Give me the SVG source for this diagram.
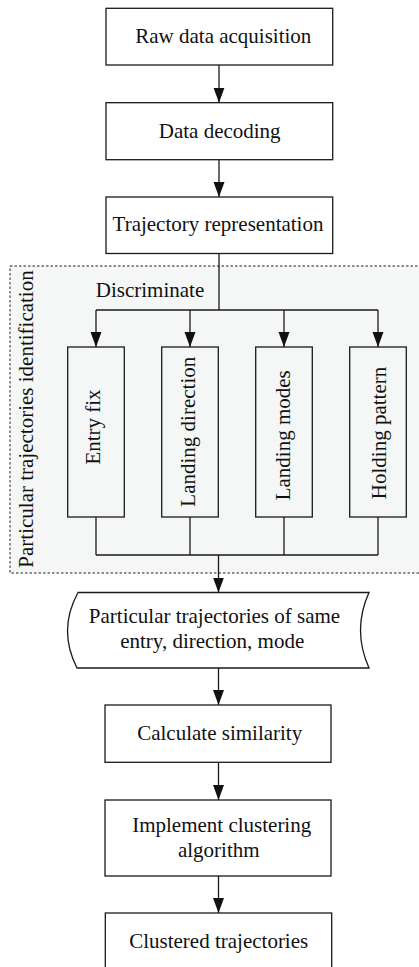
<svg xmlns="http://www.w3.org/2000/svg" width="419" height="967" viewBox="0 0 419 967">
<style>
.box{fill:#fff;stroke:#1a1a1a;stroke-width:1.3}
.vbox{fill:none;stroke:#1a1a1a;stroke-width:1.3}
.ln{fill:none;stroke:#1a1a1a;stroke-width:1.3}
.arr{fill:none;stroke:#1a1a1a;stroke-width:1.3;marker-end:url(#ah)}
text{font-family:"Liberation Serif","Times New Roman",serif;font-size:21px;fill:#111;text-anchor:middle}
</style>
<defs>
<marker id="ah" markerUnits="userSpaceOnUse" markerWidth="15" markerHeight="12" refX="15" refY="6" orient="auto">
<path d="M0,0.5 L15,6 L0,11.5 Z" fill="#111"/>
</marker>
</defs>
<rect width="419" height="967" fill="#fff"/>
<g id="group-identification">
<rect x="10" y="266" width="420" height="307" fill="#f5f6f6" stroke="#222" stroke-width="1" stroke-dasharray="2.5,2"/>
<text transform="translate(33,419) rotate(-90)">Particular trajectories identification</text>
</g>
<g id="connectors">
<line class="arr" x1="219" y1="65" x2="219" y2="102.7"/>
<line class="arr" x1="219" y1="159.7" x2="219" y2="197"/>
<line class="ln" x1="219" y1="253.5" x2="219" y2="310"/>
<line class="ln" x1="96" y1="310" x2="378" y2="310"/>
<line class="arr" x1="96" y1="310" x2="96" y2="347"/>
<line class="arr" x1="190" y1="310" x2="190" y2="347"/>
<line class="arr" x1="284" y1="310" x2="284" y2="347"/>
<line class="arr" x1="378" y1="310" x2="378" y2="347"/>
<line class="ln" x1="96" y1="517" x2="96" y2="555"/>
<line class="ln" x1="190" y1="517" x2="190" y2="555"/>
<line class="ln" x1="284" y1="517" x2="284" y2="555"/>
<line class="ln" x1="378" y1="517" x2="378" y2="555"/>
<line class="ln" x1="96" y1="555" x2="378" y2="555"/>
<line class="arr" x1="218.5" y1="555" x2="218.5" y2="592.5"/>
<line class="arr" x1="218.5" y1="668" x2="218.5" y2="705"/>
<line class="arr" x1="218.5" y1="762.3" x2="218.5" y2="800"/>
<line class="arr" x1="218.5" y1="876" x2="218.5" y2="913"/>
<text x="150" y="296.7">Discriminate</text>
</g>
<g id="raw-data">
<rect class="box" x="106" y="8.3" width="226.7" height="56.7"/>
<text x="223.3" y="43">Raw data acquisition</text>
</g>
<g id="data-decoding">
<rect class="box" x="106" y="102.7" width="226.7" height="57"/>
<text x="219.7" y="138">Data decoding</text>
</g>
<g id="trajectory-representation">
<rect class="box" x="106" y="197" width="226.7" height="56.5"/>
<text x="218" y="230.5">Trajectory representation</text>
</g>
<g id="entry-fix">
<rect class="vbox" x="67.7" y="347" width="56.6" height="170"/>
<text transform="translate(100,427) rotate(-90)">Entry fix</text>
</g>
<g id="landing-direction">
<rect class="vbox" x="161.7" y="347" width="56.6" height="170"/>
<text transform="translate(195,431.7) rotate(-90)">Landing direction</text>
</g>
<g id="landing-modes">
<rect class="vbox" x="255.7" y="347" width="56.6" height="170"/>
<text transform="translate(290,435.3) rotate(-90)">Landing modes</text>
</g>
<g id="holding-pattern">
<rect class="vbox" x="349.7" y="347" width="56.6" height="170"/>
<text transform="translate(385.5,433) rotate(-90)">Holding pattern</text>
</g>
<g id="particular-trajectories">
<path class="box" d="M78,592.5 L369,592.5 Q352,630 369,668 L77,668 Q57.5,630 78,592.5 Z"/>
<text x="214.5" y="623.3">Particular trajectories of same</text>
<text x="212.2" y="648">entry, direction, mode</text>
</g>
<g id="calculate-similarity">
<rect class="box" x="105" y="705" width="226" height="57.3"/>
<text x="219.7" y="740">Calculate similarity</text>
</g>
<g id="implement-clustering">
<rect class="box" x="105" y="800" width="226" height="76"/>
<text x="221.7" y="831.7">Implement clustering</text>
<text x="218.8" y="856.7">algorithm</text>
</g>
<g id="clustered-trajectories">
<rect class="box" x="105.3" y="913" width="226.4" height="58"/>
<text x="218.7" y="948">Clustered trajectories</text>
</g>
</svg>
